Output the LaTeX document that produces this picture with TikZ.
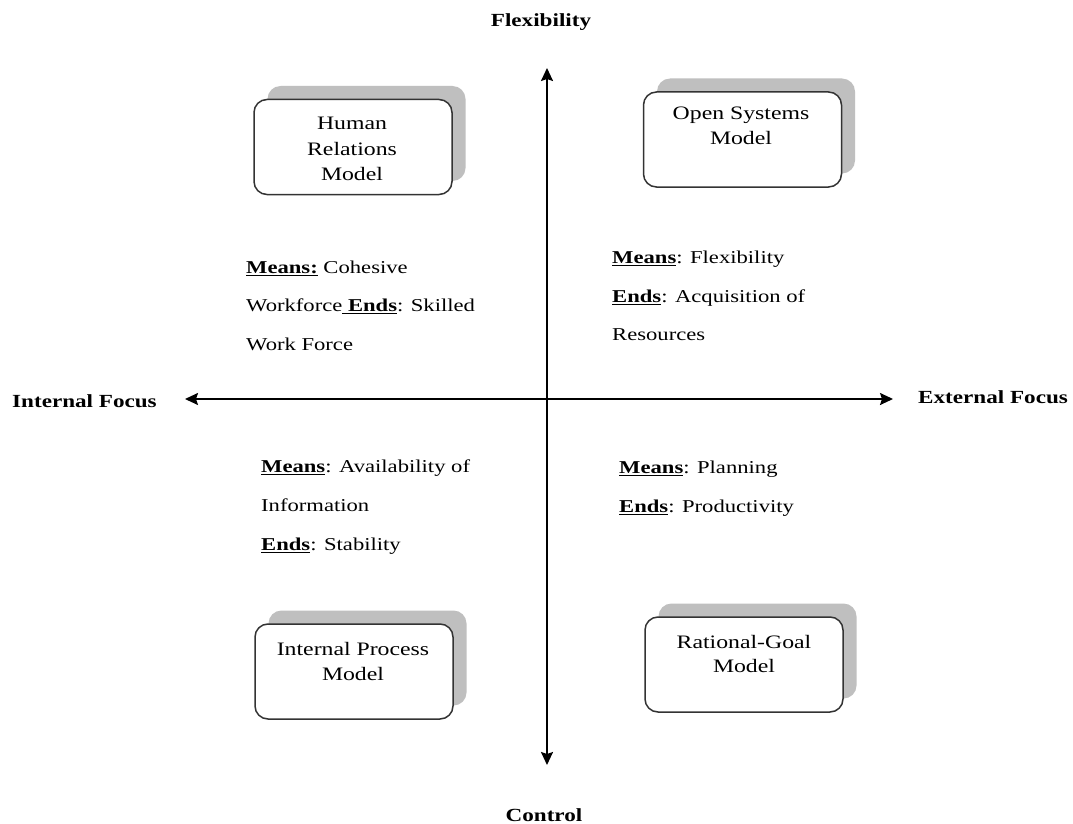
\documentclass[tikz,border=0pt]{standalone}
\usepackage{fontspec}
\setmainfont{Liberation Serif}[FakeStretch=1.25]
\usetikzlibrary{arrows.meta,shadows}
\newcommand\ulw[1]{\vtop{\hbox{#1}\kern1.6pt\hrule height 1.5pt}}
\tikzset{
  box/.style={draw=black!80, line width=1.5pt, rounded corners=13pt, fill=white,
    minimum width=198pt, minimum height=95pt, inner sep=0pt,
    drop shadow={shadow xshift=13.5pt, shadow yshift=13.5pt, fill=black!25, opacity=1}},
  boxtext/.style={font=\fontsize{19}{25}\selectfont, inner sep=0pt, anchor=base},
  bodytext/.style={font=\fontsize{18.1}{21}\selectfont, inner sep=0pt, anchor=base west},
  axislabel/.style={font=\bfseries\fontsize{18.5}{22}\selectfont, inner sep=0pt, anchor=base},
  axis/.style={line width=1.8pt, {Stealth[length=13pt,width=12pt,inset=2pt]}-{Stealth[length=13pt,width=12pt,inset=2pt]}}
}
\begin{document}
\begin{tikzpicture}[x=1pt,y=-1pt]
\useasboundingbox[fill=white] (0,0) rectangle (1073,824);
% axes
\coordinate (top) at (547,68);
\coordinate (bot) at (547,765);
\coordinate (lft) at (185,399);
\coordinate (rgt) at (893,399);
\draw[axis] (top) -- (bot);
\draw[axis] (lft) -- (rgt);
\node[axislabel] (flex) at (541,27) {Flexibility};
\node[axislabel] (ctrl) at (544,821) {Control};
\node[axislabel, anchor=base west] (intf) at (12,407) {Internal Focus};
\node[axislabel, anchor=base west] (extf) at (918,403) {External Focus};
% boxes
\node[box] (hr) at (353,147) {};
\node[box] (os) at (742.5,139.5) {};
\node[box] (ip) at (354,671.5) {};
\node[box] (rg) at (744,664.5) {};
\node[boxtext] (hr1) at (352,130) {Human};
\node[boxtext] (hr2) at (352,155) {Relations};
\node[boxtext] (hr3) at (352,180) {Model};
\node[boxtext] (os1) at (741,120) {Open Systems};
\node[boxtext] (os2) at (741,145) {Model};
\node[boxtext] (ip1) at (353,655) {Internal Process};
\node[boxtext] (ip2) at (353,680) {Model};
\node[boxtext] (rg1) at (744,648) {Rational-Goal};
\node[boxtext] (rg2) at (744,672) {Model};
% texts
\node[bodytext] (tl1) at (246,273) {\ulw{\textbf{Means:}} Cohesive};
\node[bodytext] (tl2) at (246,311) {Workforce\ulw{\ \textbf{Ends}}: Skilled};
\node[bodytext] (tl3) at (246,350) {Work Force};
\node[bodytext] (tr1) at (612,263) {\ulw{\textbf{Means}}: Flexibility};
\node[bodytext] (tr2) at (612,302) {\ulw{\textbf{Ends}}: Acquisition of};
\node[bodytext] (tr3) at (612,340) {Resources};
\node[bodytext] (bl1) at (261,472) {\ulw{\textbf{Means}}: Availability of};
\node[bodytext] (bl2) at (261,511) {Information};
\node[bodytext] (bl3) at (261,550) {\ulw{\textbf{Ends}}: Stability};
\node[bodytext] (br1) at (619,473) {\ulw{\textbf{Means}}: Planning};
\node[bodytext] (br2) at (619,512) {\ulw{\textbf{Ends}}: Productivity};
\end{tikzpicture}
\end{document}
